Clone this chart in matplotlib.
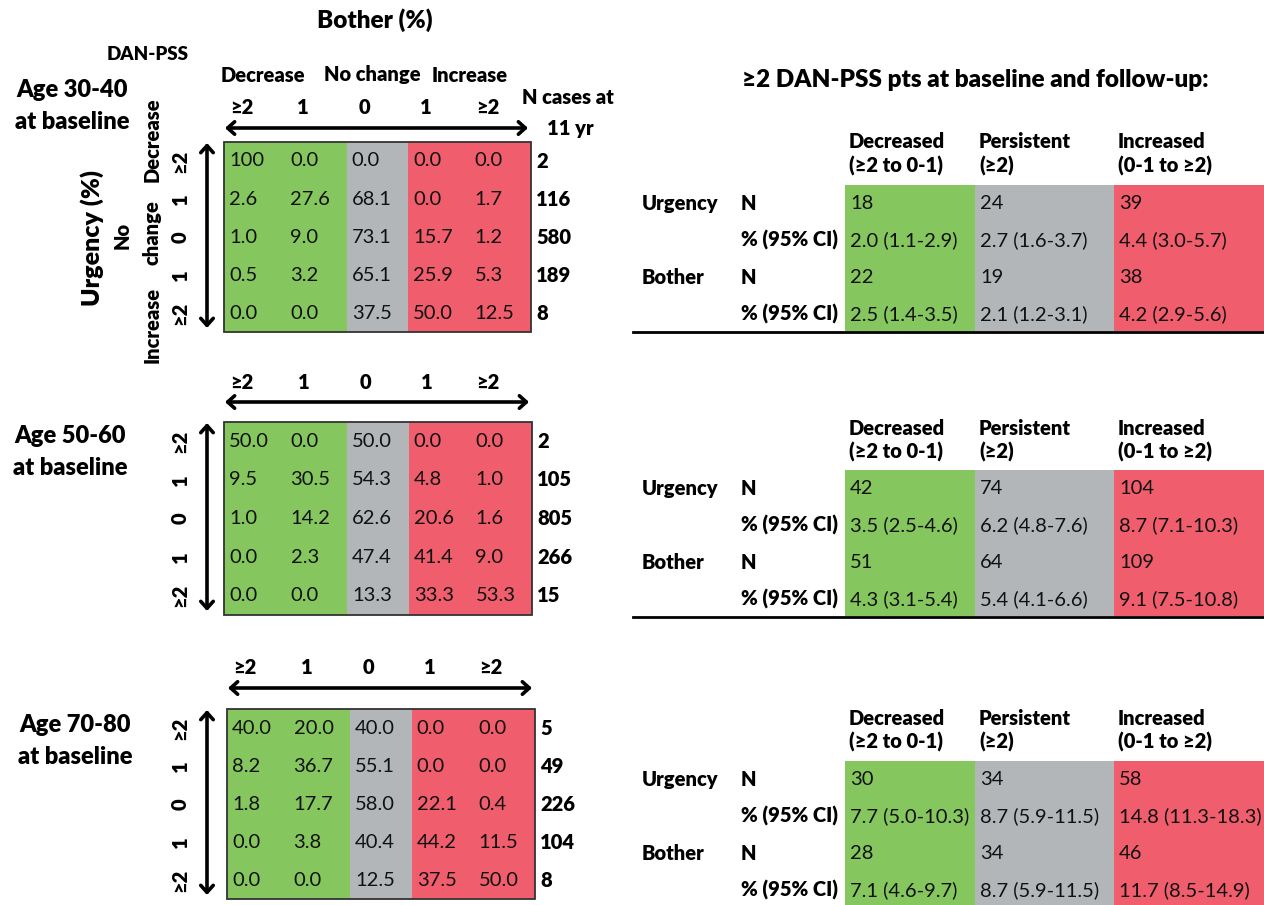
import matplotlib.pyplot as plt
from matplotlib.patches import Rectangle

plt.rcParams['font.family'] = ['Lato', 'DejaVu Sans']
BOLD = 'heavy'

# ---- data ----
age_groups = ['Age 30-40', 'Age 50-60', 'Age 70-80']
change_labels = ['≥2', '1', '0', '1', '≥2']
bother_groups = ['Decrease', 'No change', 'Increase']

# urgency change (rows) x bother change (cols), %
pct_30_40 = [[100, 0.0, 0.0, 0.0, 0.0],
             [2.6, 27.6, 68.1, 0.0, 1.7],
             [1.0, 9.0, 73.1, 15.7, 1.2],
             [0.5, 3.2, 65.1, 25.9, 5.3],
             [0.0, 0.0, 37.5, 50.0, 12.5]]
pct_50_60 = [[50.0, 0.0, 50.0, 0.0, 0.0],
             [9.5, 30.5, 54.3, 4.8, 1.0],
             [1.0, 14.2, 62.6, 20.6, 1.6],
             [0.0, 2.3, 47.4, 41.4, 9.0],
             [0.0, 0.0, 13.3, 33.3, 53.3]]
pct_70_80 = [[40.0, 20.0, 40.0, 0.0, 0.0],
             [8.2, 36.7, 55.1, 0.0, 0.0],
             [1.8, 17.7, 58.0, 22.1, 0.4],
             [0.0, 3.8, 40.4, 44.2, 11.5],
             [0.0, 0.0, 12.5, 37.5, 50.0]]
n_cases_30_40 = [2, 116, 580, 189, 8]
n_cases_50_60 = [2, 105, 805, 266, 15]
n_cases_70_80 = [5, 49, 226, 104, 8]

outcome_cols = ['Decreased\n(≥2 to 0-1)', 'Persistent\n(≥2)', 'Increased\n(0-1 to ≥2)']
# (N, %, lower CI, upper CI) per outcome column
urgency_30_40 = [(18, 2.0, 1.1, 2.9), (24, 2.7, 1.6, 3.7), (39, 4.4, 3.0, 5.7)]
bother_30_40 = [(22, 2.5, 1.4, 3.5), (19, 2.1, 1.2, 3.1), (38, 4.2, 2.9, 5.6)]
urgency_50_60 = [(42, 3.5, 2.5, 4.6), (74, 6.2, 4.8, 7.6), (104, 8.7, 7.1, 10.3)]
bother_50_60 = [(51, 4.3, 3.1, 5.4), (64, 5.4, 4.1, 6.6), (109, 9.1, 7.5, 10.8)]
urgency_70_80 = [(30, 7.7, 5.0, 10.3), (34, 8.7, 5.9, 11.5), (58, 14.8, 11.3, 18.3)]
bother_70_80 = [(28, 7.1, 4.6, 9.7), (34, 8.7, 5.9, 11.5), (46, 11.7, 8.5, 14.9)]

pct_tables = [pct_30_40, pct_50_60, pct_70_80]
n_tables = [n_cases_30_40, n_cases_50_60, n_cases_70_80]
urgency_tables = [urgency_30_40, urgency_50_60, urgency_70_80]
bother_tables = [bother_30_40, bother_50_60, bother_70_80]

GREEN, GREY, RED = '#86C65E', '#B3B6B8', '#F05D6D'
group_colors = [GREEN, GREEN, GREY, RED, RED]

# ---- canvas in pixel units ----
fig = plt.figure(figsize=(12.64, 9.05), dpi=100)
ax = fig.add_axes([0, 0, 1, 1])
ax.set_xlim(0, 1264)
ax.set_ylim(905, 0)
ax.axis('off')

# matrix panel layout: (left, right, top, bottom)
mat_box = [(224, 531, 142, 332), (224, 532, 422, 615), (227, 535, 709, 899)]
label_y = [107, 382, 667]
arrow_y = [128, 402, 688]
age_xy = [(72, 90), (70, 436), (75, 725)]

arrow_kw = dict(arrowstyle='<->,head_length=0.5,head_width=0.45', lw=2.6,
                color='black', shrinkA=0, shrinkB=0)


def fmt(v):
    return '100' if v == 100 else f'{v:.1f}'


for p in range(3):
    x0, x1, y0, y1 = mat_box[p]
    cw = (x1 - x0) / 5
    rh = (y1 - y0) / 5
    for j in range(5):
        ax.add_patch(Rectangle((x0 + j * cw, y0), cw, y1 - y0,
                               facecolor=group_colors[j], edgecolor='none'))
    ax.add_patch(Rectangle((x0, y0), x1 - x0, y1 - y0, facecolor='none',
                           edgecolor='#333333', lw=1.3))
    for i in range(5):
        yc = y0 + (i + 0.5) * rh
        for j in range(5):
            ax.text(x0 + j * cw + 5, yc, fmt(pct_tables[p][i][j]),
                    ha='left', va='center', fontsize=14.5, color='#111111')
        ax.text(x1 + 5, yc, str(n_tables[p][i]), ha='left', va='center',
                fontsize=14.5, fontweight=BOLD)
        ax.text(180, yc, change_labels[i], ha='center', va='center',
                rotation=90, fontsize=14.5, fontweight=BOLD)
    for j in range(5):
        ax.text(x0 + (j + 0.5) * cw - 13, label_y[p], change_labels[j],
                ha='center', va='center', fontsize=14.5, fontweight=BOLD)
    ax.annotate('', xy=(x0 + 1, arrow_y[p]), xytext=(x1 - 3, arrow_y[p]),
                arrowprops=arrow_kw)
    ax.annotate('', xy=(207, y0 + 1), xytext=(207, y1 - 4), arrowprops=arrow_kw)
    ax.text(age_xy[p][0], age_xy[p][1], age_groups[p], ha='center',
            va='center', fontsize=17, fontweight=BOLD)
    ax.text(age_xy[p][0], age_xy[p][1] + 32, 'at baseline', ha='center',
            va='center', fontsize=17, fontweight=BOLD)

# headers of the first matrix
ax.text(375, 20, 'Bother (%)', ha='center', va='center', fontsize=17.5, fontweight=BOLD)
ax.text(148, 55, 'DAN-PSS', ha='center', va='center', fontsize=13.5, fontweight=BOLD)
for gx, g in zip([263, 372, 470], bother_groups):
    ax.text(gx, 75, g, ha='center', va='center', fontsize=14.5, fontweight=BOLD)
ax.text(568, 98, 'N cases at', ha='center', va='center', fontsize=14.5, fontweight=BOLD)
ax.text(570, 129, '11 yr', ha='center', va='center', fontsize=14.5, fontweight=BOLD)
ax.text(152, 140, 'Decrease', ha='center', va='center', rotation=90,
        fontsize=14.5, fontweight=BOLD)
ax.text(122, 235, 'No', ha='center', va='center', rotation=90,
        fontsize=14.5, fontweight=BOLD)
ax.text(152, 233, 'change', ha='center', va='center', rotation=90,
        fontsize=14.5, fontweight=BOLD)
ax.text(152, 325, 'Increase', ha='center', va='center', rotation=90,
        fontsize=14.5, fontweight=BOLD)
ax.text(92, 238, 'Urgency (%)', ha='center', va='center', rotation=90,
        fontsize=18, fontweight=BOLD)

# ---- right-hand summary tables ----
ax.text(975, 80, '≥2 DAN-PSS pts at baseline and follow-up:', ha='center',
        va='center', fontsize=17.5, fontweight=BOLD)

tab_top = [185, 470, 761]
head_y = [142, 428, 718]
col_x = [845, 975, 1114, 1264]
row_h = 37
out_colors = [GREEN, GREY, RED]

for p in range(3):
    top = tab_top[p]
    for c in range(3):
        ax.add_patch(Rectangle((col_x[c], top), col_x[c + 1] - col_x[c], 4 * row_h - 2,
                               facecolor=out_colors[c], edgecolor='none'))
        for k, line in enumerate(outcome_cols[c].split('\n')):
            ax.text(col_x[c] + 4, head_y[p] + 24 * k, line, ha='left',
                    va='center', fontsize=14.5, fontweight=BOLD)
    rows = [('Urgency', urgency_tables[p]), ('Bother', bother_tables[p])]
    for r, (name, vals) in enumerate(rows):
        yn = top + 18 + 2 * r * row_h
        yp = yn + row_h
        ax.text(642, yn, name, ha='left', va='center', fontsize=14.5, fontweight=BOLD)
        ax.text(741, yn, 'N', ha='left', va='center', fontsize=14.5, fontweight=BOLD)
        ax.text(741, yp, '% (95% CI)', ha='left', va='center', fontsize=14.5,
                fontweight=BOLD)
        for c, (n, pc, lo, hi) in enumerate(vals):
            ax.text(col_x[c] + 5, yn, str(n), ha='left', va='center',
                    fontsize=14.5, color='#111111')
            ax.text(col_x[c] + 5, yp, f'{pc:.1f} ({lo:.1f}-{hi:.1f})', ha='left',
                    va='center', fontsize=14.5, color='#111111')
    ax.plot([633, 1264], [top + 4 * row_h - 1, top + 4 * row_h - 1],
            color='black', lw=2)

fig.savefig('out.png', dpi=100)
plt.close(fig)
